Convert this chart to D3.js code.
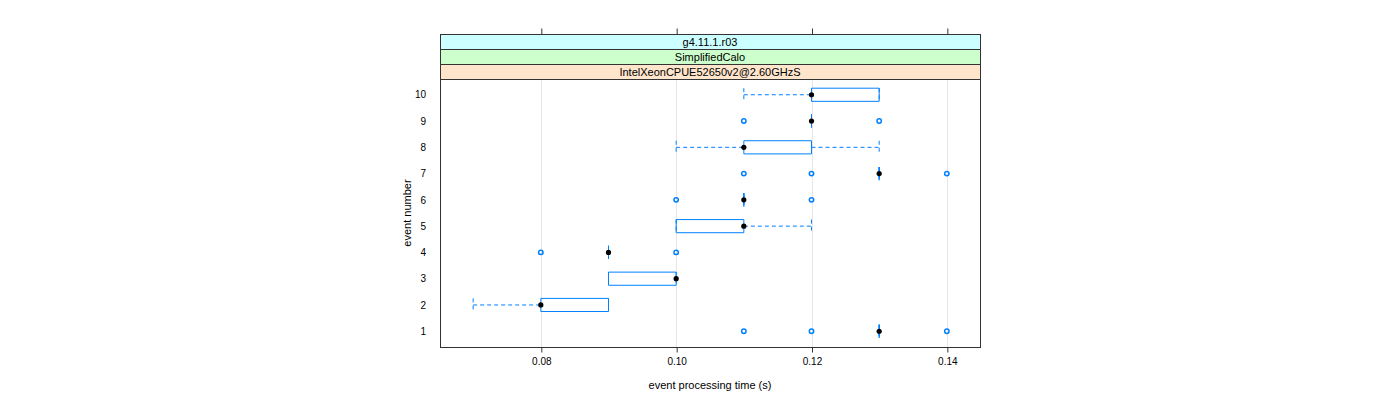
<!DOCTYPE html>
<html>
<head>
<meta charset="utf-8">
<script src="https://cdn.jsdelivr.net/npm/d3@7"></script>
<style>
  body { margin: 0; background: #fff; }
  svg text { font-family: "Liberation Sans", Arial, sans-serif; fill: #000; }
</style>
</head>
<body>
<div id="vis"></div>
<script>
// event numbers (y categories)
const events = [1, 2, 3, 4, 5, 6, 7, 8, 9, 10]
// box stats per event (seconds)
const whiskLo = [0.13, 0.07, 0.09, 0.09, 0.10, 0.11, 0.13, 0.10, 0.12, 0.11]
const q1      = [0.13, 0.08, 0.09, 0.09, 0.10, 0.11, 0.13, 0.11, 0.12, 0.12]
const medians = [0.13, 0.08, 0.10, 0.09, 0.11, 0.11, 0.13, 0.11, 0.12, 0.12]
const q3      = [0.13, 0.09, 0.10, 0.09, 0.11, 0.11, 0.13, 0.12, 0.12, 0.13]
const whiskHi = [0.13, 0.09, 0.10, 0.09, 0.12, 0.11, 0.13, 0.13, 0.12, 0.13]
const outliers = [
    [0.11, 0.12, 0.14],
    [],
    [],
    [0.08, 0.10],
    [],
    [0.10, 0.12],
    [0.11, 0.12, 0.14],
    [],
    [0.11, 0.13],
    []
]
const xTicks = [0.08, 0.10, 0.12, 0.14]
const strips = ["g4.11.1.r03", "SimplifiedCalo", "IntelXeonCPUE52650v2@2.60GHzS"]
const stripColors = ["#ccffff", "#ccffcc", "#ffe5cc"]

const W = 1400, H = 400
const panel = {left: 440, right: 980, top: 79, bottom: 347}
const stripH = 15
const blue = "#0080ff"

const svg = d3.select("#vis").append("svg")
    .attr("width", W)
    .attr("height", H)

// scales (lattice style padding)
const xMin = d3.min(whiskLo), xMax = d3.max(outliers.flat().concat(whiskHi))
const pad = (xMax - xMin) * 0.07
const xScale = d3.scaleLinear()
    .domain([xMin - pad, xMax + pad])
    .range([panel.left, panel.right])

const yScale = d3.scaleLinear()
    .domain([0.4, events.length + 0.6])
    .range([panel.bottom, panel.top])

const boxH = (yScale(0) - yScale(1)) * 0.5

// grid lines
svg.append("g")
    .selectAll("line")
    .data(xTicks)
    .join("line")
    .attr("x1", d => Math.round(xScale(d)) + 0.5)
    .attr("x2", d => Math.round(xScale(d)) + 0.5)
    .attr("y1", panel.top)
    .attr("y2", panel.bottom)
    .attr("stroke", "#e6e6e6")
    .attr("stroke-width", 1)

const rows = events.map((e, i) => ({
    e, lo: whiskLo[i], q1: q1[i], med: medians[i], q3: q3[i], hi: whiskHi[i], out: outliers[i]
}))

const g = svg.append("g")

// whiskers (dashed)
rows.forEach(r => {
    const y = yScale(r.e)
    const segs = [[r.lo, r.q1], [r.q3, r.hi]]
    segs.forEach(([a, b]) => {
        g.append("line")
            .attr("x1", xScale(a)).attr("x2", xScale(b))
            .attr("y1", y).attr("y2", y)
            .attr("stroke", blue)
            .attr("stroke-dasharray", "4,3")
            .attr("stroke-width", 1)
    })
    ;[r.lo, r.hi].forEach(v => {
        g.append("line")
            .attr("x1", xScale(v)).attr("x2", xScale(v))
            .attr("y1", y - boxH / 2).attr("y2", y + boxH / 2)
            .attr("stroke", blue)
            .attr("stroke-dasharray", "4,3")
            .attr("stroke-width", 1)
    })
})

// boxes
g.selectAll(".box")
    .data(rows)
    .join("path")
    .attr("class", "box")
    .attr("fill", "none")
    .attr("stroke", blue)
    .attr("stroke-width", 1)
    .attr("d", d => {
        const x1 = xScale(d.q1), x2 = xScale(d.q3)
        const y0 = yScale(d.e) - boxH / 2, y1 = yScale(d.e) + boxH / 2
        return `M${x1},${y0}H${x2}V${y1}H${x1}Z`
    })

// outliers
g.selectAll(".out")
    .data(rows.flatMap(r => r.out.map(v => ({e: r.e, v}))))
    .join("circle")
    .attr("class", "out")
    .attr("cx", d => xScale(d.v))
    .attr("cy", d => yScale(d.e))
    .attr("r", 2.2)
    .attr("fill", "none")
    .attr("stroke", blue)
    .attr("stroke-width", 1.5)

// medians
g.selectAll(".med")
    .data(rows)
    .join("circle")
    .attr("class", "med")
    .attr("cx", d => xScale(d.med))
    .attr("cy", d => yScale(d.e))
    .attr("r", 2.6)
    .attr("fill", "#000")

// panel border
svg.append("rect")
    .attr("x", panel.left + 0.5)
    .attr("y", panel.top + 0.5)
    .attr("width", panel.right - panel.left)
    .attr("height", panel.bottom - panel.top)
    .attr("fill", "none")
    .attr("stroke", "#333")

// strips (top = first)
strips.forEach((s, i) => {
    const y = panel.top - (strips.length - i) * stripH
    svg.append("rect")
        .attr("x", panel.left + 0.5)
        .attr("y", y + 0.5)
        .attr("width", panel.right - panel.left)
        .attr("height", stripH)
        .attr("fill", stripColors[i])
        .attr("stroke", "#333")
    svg.append("text")
        .attr("x", (panel.left + panel.right) / 2)
        .attr("y", y + stripH / 2 + 4)
        .attr("text-anchor", "middle")
        .style("font-size", "11px")
        .text(s)
})

// bottom axis
const bottomAxis = svg.append("g")
    .attr("transform", `translate(0.5,${panel.bottom + 0.5})`)
    .call(d3.axisBottom(xScale).tickValues(xTicks).tickFormat(d3.format(".2f")).tickSize(5).tickSizeOuter(0))
bottomAxis.select(".domain").remove()
bottomAxis.selectAll("line").attr("stroke", "#333")
bottomAxis.selectAll("text").style("font-size", "10px").attr("dy", "0.9em")

// top axis (ticks only)
const topY = panel.top - strips.length * stripH
const topAxis = svg.append("g")
    .attr("transform", `translate(0.5,${topY + 0.5})`)
    .call(d3.axisTop(xScale).tickValues(xTicks).tickFormat("").tickSize(6).tickSizeOuter(0))
topAxis.select(".domain").remove()
topAxis.selectAll("line").attr("stroke", "#333")

// left labels (no tick marks)
const leftAxis = svg.append("g")
    .attr("transform", `translate(${panel.left},0)`)
    .call(d3.axisLeft(yScale).tickValues(events).tickFormat(d3.format("d")).tickSize(0).tickPadding(14))
leftAxis.select(".domain").remove()
leftAxis.selectAll("text").style("font-size", "10px")

// axis titles
svg.append("text")
    .attr("x", (panel.left + panel.right) / 2)
    .attr("y", 389)
    .attr("text-anchor", "middle")
    .style("font-size", "11px")
    .text("event processing time (s)")

svg.append("text")
    .attr("transform", "rotate(-90)")
    .attr("x", -(panel.top + panel.bottom) / 2)
    .attr("y", 411)
    .attr("text-anchor", "middle")
    .style("font-size", "11px")
    .text("event number")
</script>
</body>
</html>
